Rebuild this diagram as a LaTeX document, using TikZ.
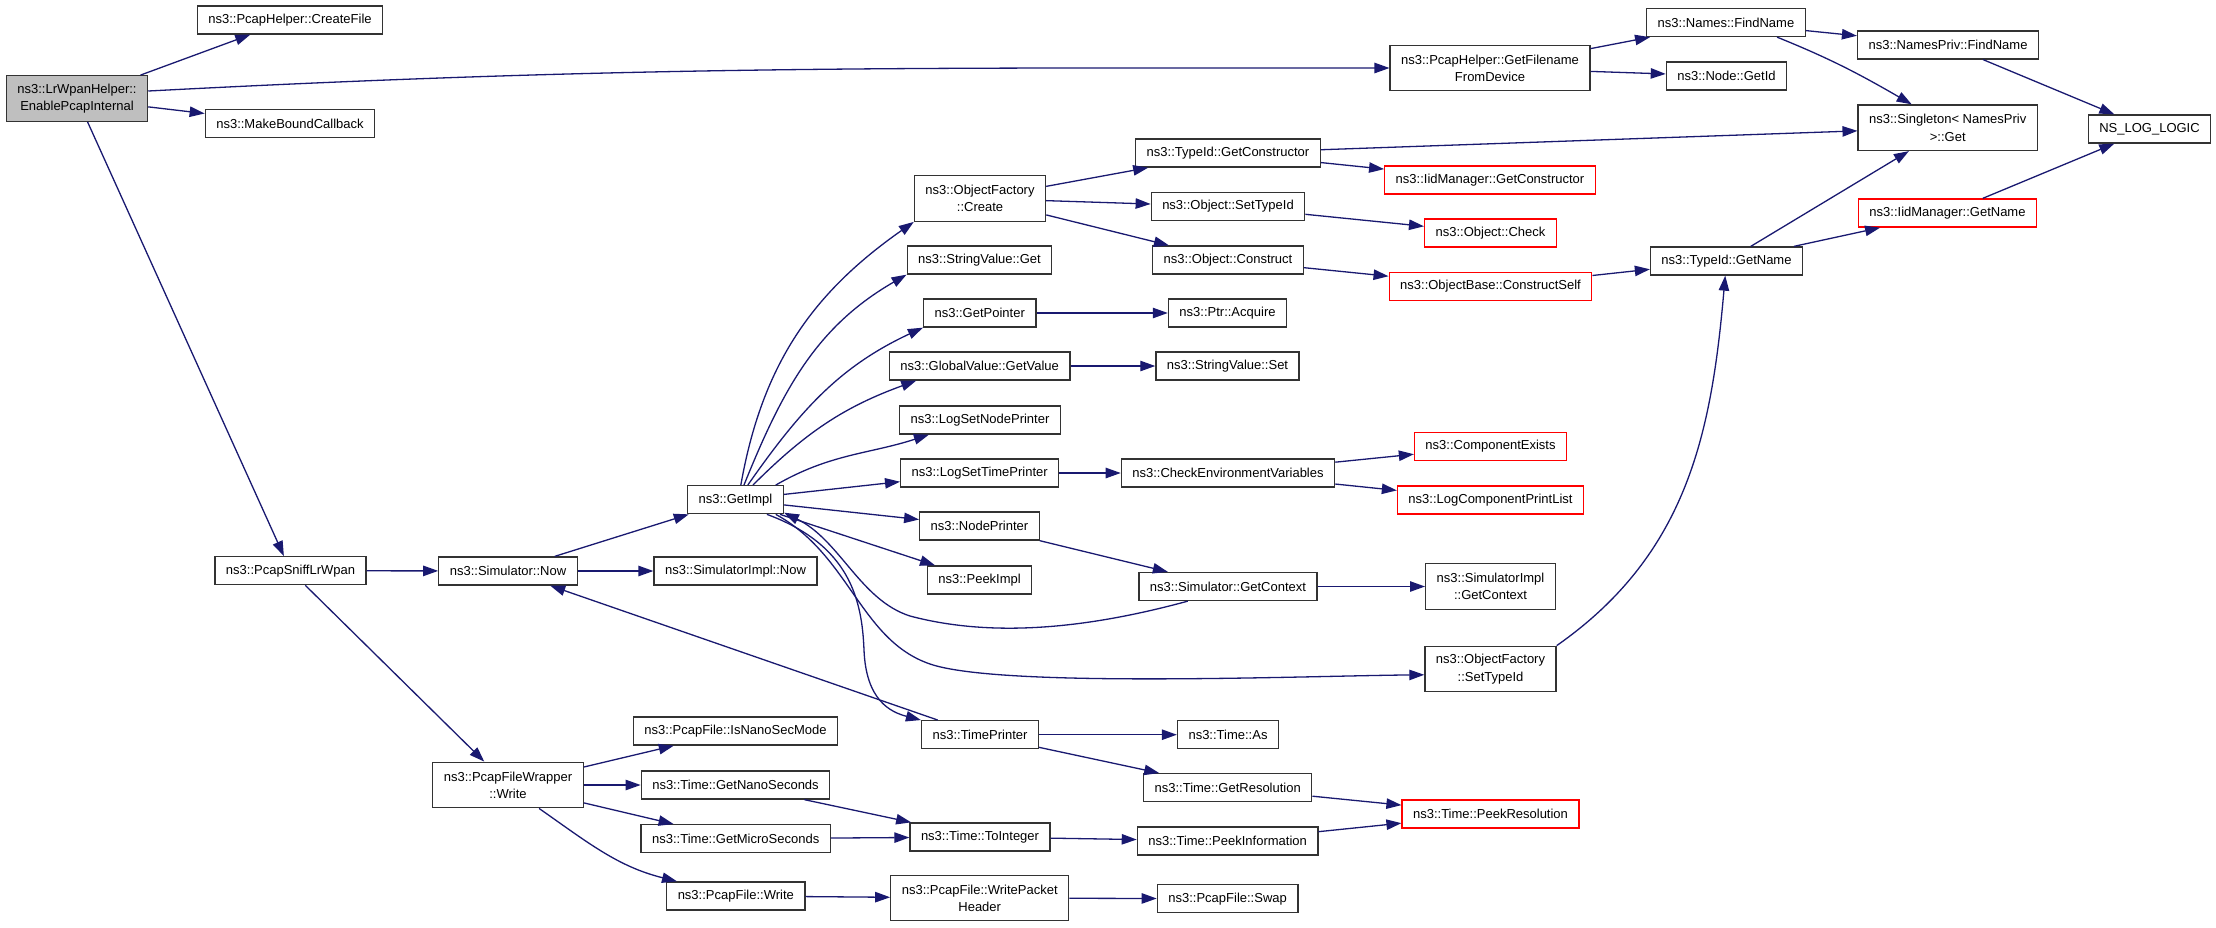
\documentclass[tikz,border=0pt]{standalone}
\usepackage{fontspec}
\setmainfont{Liberation Sans}
\usetikzlibrary{arrows.meta}

\definecolor{edgeblue}{HTML}{191970}
\tikzstyle{fn} = [draw=black!80, line width=0.65pt, rectangle, minimum height=14pt, inner xsep=5.5pt, inner ysep=2pt, font=\fontsize{6.5}{8.65}\selectfont, align=center]
\tikzstyle{fntwo} = [fn, minimum height=22.75pt]
\tikzstyle{undoc} = [fn, draw=red]
\tikzstyle{rootfn} = [fntwo, fill=gray!50]
\tikzstyle{call} = [->, draw=edgeblue, line width=0.65pt]

\begin{document}
\begin{tikzpicture}[x=0.5pt, y=-0.5pt, >={Triangle[length=7.5pt,width=5.2pt]}]
  \useasboundingbox (0,0) rectangle (2216,927);

  \node (root) at (77,98.5) [rootfn] {ns3::LrWpanHelper::\\EnablePcapInternal};
  \node (crf) at (290,20) [fn] {ns3::PcapHelper::CreateFile};
  \node (mbc) at (290,123.5) [fn] {ns3::MakeBoundCallback};
  \node (sniff) at (290.5,570.7) [fn] {ns3::PcapSniffLrWpan};

  \node (sin) at (508,571) [fn] {ns3::Simulator::Now};
  \node (pfw) at (508,785) [fntwo] {ns3::PcapFileWrapper\\::Write};

  \node (gim) at (735.5,499.7) [fn] {ns3::GetImpl};
  \node (sim) at (735.5,571) [fn] {ns3::SimulatorImpl::Now};
  \node (ism) at (735.5,731) [fn] {ns3::PcapFile::IsNanoSecMode};
  \node (gns) at (735.5,785) [fn] {ns3::Time::GetNanoSeconds};
  \node (gms) at (735.7,838.7) [fn] {ns3::Time::GetMicroSeconds};
  \node (pfwr) at (735.8,896) [fn] {ns3::PcapFile::Write};

  \node (ofc) at (980,198.5) [fntwo] {ns3::ObjectFactory\\::Create};
  \node (svg) at (979.5,260) [fn] {ns3::StringValue::Get};
  \node (gpt) at (979.7,313) [fn] {ns3::GetPointer};
  \node (gvv) at (979.7,366) [fn] {ns3::GlobalValue::GetValue};
  \node (lsn) at (980,420) [fn] {ns3::LogSetNodePrinter};
  \node (lst) at (979.7,473) [fn] {ns3::LogSetTimePrinter};
  \node (ndp) at (979.5,526) [fn] {ns3::NodePrinter};
  \node (pki) at (979.6,580) [fn] {ns3::PeekImpl};
  \node (tpr) at (980,734.7) [fn] {ns3::TimePrinter};
  \node (tit) at (980,837) [fn] {ns3::Time::ToInteger};
  \node (wph) at (979.7,898) [fntwo] {ns3::PcapFile::WritePacket\\Header};

  \node (tgc) at (1228,153) [fn] {ns3::TypeId::GetConstructor};
  \node (ost) at (1228,206.5) [fn] {ns3::Object::SetTypeId};
  \node (ocn) at (1228,260) [fn] {ns3::Object::Construct};
  \node (ptr) at (1227.5,313) [fn] {ns3::Ptr::Acquire};
  \node (svs) at (1227.5,366) [fn] {ns3::StringValue::Set};
  \node (cev) at (1228,473) [fn] {ns3::CheckEnvironmentVariables};
  \node (sgc) at (1228,586.5) [fn] {ns3::Simulator::GetContext};
  \node (tas) at (1228,734.7) [fn] {ns3::Time::As};
  \node (tgr) at (1227.7,787.7) [fn] {ns3::Time::GetResolution};
  \node (tpi) at (1227.6,841) [fn] {ns3::Time::PeekInformation};
  \node (swp) at (1227.6,898.7) [fn] {ns3::PcapFile::Swap};

  \node (gfd) at (1490,68) [fntwo] {ns3::PcapHelper::GetFilename\\FromDevice};
  \node (igc) at (1490,180) [undoc] {ns3::IidManager::GetConstructor};
  \node (och) at (1490.5,233) [undoc] {ns3::Object::Check};
  \node (ocs) at (1490.5,286.5) [undoc] {ns3::ObjectBase::ConstructSelf};
  \node (cex) at (1490.5,446.5) [undoc] {ns3::ComponentExists};
  \node (lcp) at (1490.5,500) [undoc] {ns3::LogComponentPrintList};
  \node (sigc) at (1490.5,586.5) [fntwo] {ns3::SimulatorImpl\\::GetContext};
  \node (ofs) at (1490.5,669) [fntwo] {ns3::ObjectFactory\\::SetTypeId};
  \node (tpres) at (1490.5,814) [undoc] {ns3::Time::PeekResolution};

  \node (fnm) at (1726,22.5) [fn] {ns3::Names::FindName};
  \node (gid) at (1726.5,76) [fn] {ns3::Node::GetId};
  \node (tgn) at (1726.5,261) [fn] {ns3::TypeId::GetName};

  \node (npf) at (1948,45) [fn] {ns3::NamesPriv::FindName};
  \node (sgt) at (1947.7,127.7) [fntwo] {ns3::Singleton< NamesPriv\\>::Get};
  \node (ign) at (1947.5,213) [undoc] {ns3::IidManager::GetName};

  \node (nll) at (2149.5,129) [fn] {NS\_LOG\_LOGIC};

  \draw [call] (root) -- (crf);
  \draw [call] (root) -- (mbc);
  \draw [call] (root) -- (sniff);
  \draw [call] (root.6) to [out=3,in=180] (gfd);
  \draw [call] (gfd) -- (fnm);
  \draw [call] (gfd) -- (gid);
  \draw [call] (fnm) -- (npf);
  \draw [call] (fnm.-16) to [out=-22,in=150] (sgt.147);
  \draw [call] (npf) -- (nll);
  \draw [call] (ign) -- (nll);
  \draw [call] (tgn) -- (sgt);
  \draw [call] (tgn) -- (ign);
  \draw [call] (tgc) -- (sgt);
  \draw [call] (tgc) -- (igc);
  \draw [call] (ofc) -- (tgc);
  \draw [call] (ofc) -- (ost);
  \draw [call] (ofc) -- (ocn);
  \draw [call] (ost) -- (och);
  \draw [call] (ocn) -- (ocs);
  \draw [call] (ocs) -- (tgn);
  \draw [call] (ofs.north east) to [out=35,in=265] (tgn);

  \draw [call] (gim.70) to [out=80,in=215] (ofc.south west);
  \draw [call] (gim.60) to [out=68,in=210] (svg.south west);
  \draw [call] (gim.50) to [out=55,in=205] (gpt.south west);
  \draw [call] (gim.40) to [out=45,in=200] (gvv.193);
  \draw [call] (gim.20) to [out=30,in=198] (lsn.196);
  \draw [call] (gim) -- (lst);
  \draw [call] (gim) -- (ndp);
  \draw [call] (gim) -- (pki);
  \draw [call] (gim.-20) .. controls (850,555) and (860,640) .. (930,664)
    .. controls (1000,688) and (1300,676) .. (ofs.185);
  \draw [call] (gim.-25) .. controls (850,545) and (862,600) .. (864,650)
    .. controls (866,700) and (890,712) .. (tpr.north west);
  \draw [call] (sgc.200) .. controls (1100,625) and (1000,640) .. (910,616)
    .. controls (860,600) and (840,540) .. (gim.-15);

  \draw [call] (sin) -- (gim);
  \draw [call] (sin) -- (sim);
  \draw [call] (sniff) -- (sin);
  \draw [call] (sniff) -- (pfw);
  \draw [call] (pfw) -- (ism);
  \draw [call] (pfw) -- (gns);
  \draw [call] (pfw) -- (gms);
  \draw [call] (pfw.-37) to [out=-35,in=166] (pfwr.166);
  \draw [call] (gns) -- (tit);
  \draw [call] (gms) -- (tit);
  \draw [call] (tit) -- (tpi);
  \draw [call] (pfwr) -- (wph);
  \draw [call] (wph) -- (swp);
  \draw [call] (tpr) -- (tas);
  \draw [call] (tpr) -- (tgr);
  \draw [call] (tpr) -- (sin);
  \draw [call] (tgr) -- (tpres);
  \draw [call] (tpi) -- (tpres);
  \draw [call] (gpt) -- (ptr);
  \draw [call] (gvv) -- (svs);
  \draw [call] (lst) -- (cev);
  \draw [call] (cev) -- (cex);
  \draw [call] (cev) -- (lcp);
  \draw [call] (ndp) -- (sgc);
  \draw [call] (sgc) -- (sigc);
\end{tikzpicture}
\end{document}
